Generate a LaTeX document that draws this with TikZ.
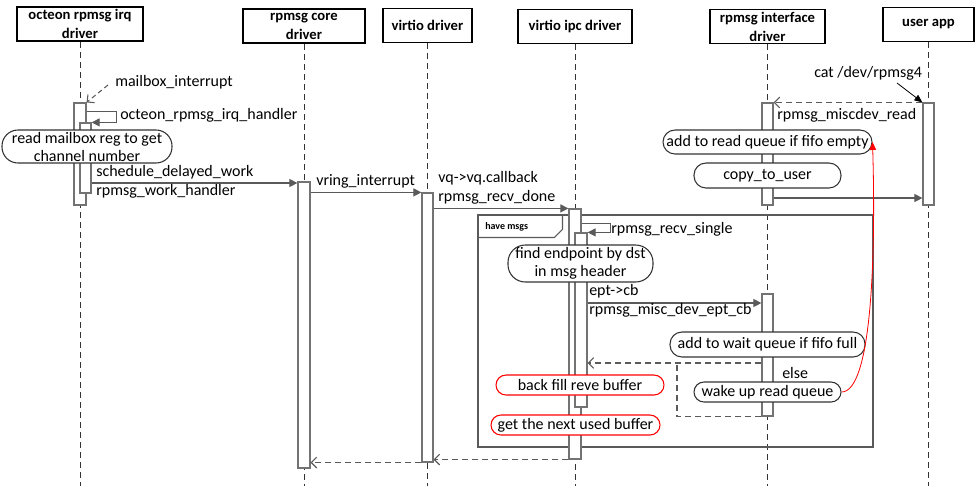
\documentclass[tikz,border=0pt]{standalone}
\usepackage{fontspec}
\setmainfont{Carlito}
\usepackage{tikz}
\usetikzlibrary{positioning,arrows.meta,calc,fit}
\definecolor{linegray}{RGB}{90,90,90}
\definecolor{bargray}{RGB}{115,115,115}
\definecolor{notered}{RGB}{255,0,0}

\begin{document}
\begin{tikzpicture}[x=0.75pt, y=-0.75pt, font=\fontsize{12}{14.25}\selectfont]
\tikzset{
  header/.style={rectangle, draw=black, line width=0.8pt, fill=white, align=center,
    font=\fontsize{11}{14.25}\selectfont\bfseries, inner sep=1pt, minimum height=25.5pt},
  life/.style={draw=black!80, dash pattern=on 4.5pt off 3pt, line width=0.6pt},
  actbar/.style={rectangle, draw=bargray, line width=0.9pt, fill=white, inner sep=0pt},
  note/.style={rectangle, rounded corners=9pt, draw=black!80, line width=0.8pt, fill=white,
    align=center, inner sep=1pt},
  twoline/.style={note, font=\fontsize{12}{13.5}\selectfont, inner sep=0pt},
  rednote/.style={note, draw=notered, rounded corners=7.5pt},
  lbl/.style={anchor=west, inner sep=0pt, text=black},
  msg/.style={-{Triangle[length=6pt,width=6pt]}, draw=linegray, line width=0.8pt},
  ret/.style={-{Straight Barb[length=4pt,width=8pt]}, draw=linegray, dash pattern=on 4.5pt off 3pt, line width=0.8pt},
  frm/.style={rectangle, draw=linegray, line width=0.8pt, inner sep=0pt}
}
\useasboundingbox (0,0) rectangle (976,487);
\node[header, minimum width=94.5pt] (irqdrv)  at (80,24)    {octeon rpmsg irq\\driver};
\node[header, minimum width=91.5pt] (coredrv) at (304,26)   {rpmsg core\\driver};
\node[header, minimum width=66.75pt] (virtdrv) at (427.5,25.5) {virtio driver};
\node[header, minimum width=85.5pt] (ipcdrv)  at (575,26.5) {virtio ipc driver};
\node[header, minimum width=86.25pt] (ifdrv)  at (767.5,26.5) {rpmsg interface\\driver};
\node[header, minimum width=68.25pt] (userapp) at (928.5,24.5) {user app};
\coordinate (bottom) at (0,486);
\foreach \d in {irqdrv,coredrv,virtdrv,ipcdrv,ifdrv,userapp}
  \draw[life] (\d.south) -- (\d.south |- bottom);
\node[frm, fit={(478,215) (873,447)}] (havemsgs) {};
\draw[draw=linegray, line width=0.8pt] (havemsgs.north west) ++(85,0) -- ++(0,15) -- ++(-8,8) -- ++(-77,0);
\node[lbl, font=\fontsize{7.5}{8}\selectfont\bfseries] (havelbl) at (485,227) {have msgs};
\node[actbar, fit={(74,103) (86,205)}] (irqact) {};
\node[actbar, fit={(80,123) (91,193)}] (irqsub) {};
\node[actbar, fit={(298,182) (310,468)}] (coreact) {};
\node[actbar, fit={(422,193) (433,462)}] (virtact) {};
\node[actbar, fit={(569,209) (581,459)}] (ipcact) {};
\node[actbar, fit={(575,233) (587,407)}] (ipcsub) {};
\node[actbar, fit={(762,103) (773,205)}] (ifact) {};
\node[actbar, fit={(762,294) (773,416)}] (ifsub) {};
\node[actbar, fit={(923,103) (934,205)}] (useract) {};
\node[twoline, minimum width=127.5pt, minimum height=24.75pt, rounded corners=12pt] (readmb) at (87,146.5) {read mailbox reg to get\\channel number};
\node[twoline, minimum width=108.75pt, minimum height=27.75pt, rounded corners=13pt] (findep) at (580.5,263.5) {find endpoint by dst\\in msg header};
\node[note, minimum width=156.75pt, minimum height=18pt] (addread) at (767.5,142) {add to read queue if fifo empty};
\node[note, minimum width=110.25pt, minimum height=18.75pt] (copyuser) at (767.5,175.5) {copy\_to\_user};
\node[note, minimum width=146.25pt, minimum height=18.75pt] (addwait) at (767.5,344.5) {add to wait queue if fifo full};
\node[note, minimum width=110.25pt, minimum height=15pt, rounded corners=7.5pt] (wakeup) at (767.5,392) {wake up read queue};
\node[rednote, minimum width=126pt, minimum height=15pt] (backfill) at (580,385) {back fill reve buffer};
\node[rednote, minimum width=126.75pt, minimum height=15pt] (nextbuf) at (575.5,425) {get the next used buffer};
\coordinate (mbx) at (108,85);
\coordinate (catsrc) at (897,83);
\coordinate (ysched) at (0,183);
\coordinate (yept) at (0,303);
\coordinate (yback) at (0,363);
\coordinate (elsex) at (677,363);
\coordinate (ycopy) at (0,198);
\draw[ret, dash pattern=on 3.5pt off 2.5pt] (mbx) -- (irqact.north east);
\draw[msg] ($(irqact.north east)+(0,9)$) -- ++(30,0) |- (irqsub.north east);
\draw[msg] (irqsub.east |- ysched) -- (coreact.west |- ysched);
\draw[msg] (coreact.east |- virtact.north) -- (virtact.north west);
\draw[msg] (virtact.east |- ipcact.north) -- (ipcact.north west);
\draw[msg] ($(ipcact.north east)+(0,15)$) -- ++(29,0) |- (ipcsub.north east);
\draw[msg] (ipcsub.east |- yept) -- (ifsub.west |- yept);
\draw[ret] (ifsub.west |- yback) -- (ipcsub.east |- yback);
\draw[ret, -] (ifsub.south west) -| (elsex);
\draw[ret] (ipcact.south west) -- (virtact.east |- ipcact.south);
\draw[ret] (virtact.south west) -- (coreact.east |- virtact.south);
\draw[-{Triangle[length=6pt,width=5pt]}, draw=black, line width=0.6pt] (catsrc) -- (useract.north west);
\draw[ret] (useract.north west) -- (ifact.north east);
\draw[msg] (ifact.east |- ycopy) -- (useract.west |- ycopy);
\draw[-{Triangle[length=6pt,width=5pt]}, draw=notered, line width=0.6pt] (wakeup.east) .. controls (871,392) and (876,262) .. (addread.east);
\node[lbl] (mbxlbl) at (115,82) {mailbox\_interrupt};
\node[lbl] (irqhlbl) at (120,115) {octeon\_rpmsg\_irq\_handler};
\node[lbl] (schedlbl) at (96,172) {schedule\_delayed\_work};
\node[lbl] (worklbl) at (96,191) {rpmsg\_work\_handler};
\node[lbl] (vringlbl) at (316,181) {vring\_interrupt};
\node[lbl] (vqlbl) at (438,178) {vq->vq.callback};
\node[lbl] (donelbl) at (438,197) {rpmsg\_recv\_done};
\node[lbl] (singlelbl) at (611,229) {rpmsg\_recv\_single};
\node[lbl] (eptlbl) at (589,291) {ept->cb};
\node[lbl] (misclbl) at (589,310) {rpmsg\_misc\_dev\_ept\_cb};
\node[lbl] (elselbl) at (782,373) {else};
\node[lbl] (catlbl) at (814,73) {cat /dev/rpmsg4};
\node[lbl] (readlbl) at (777,115) {rpmsg\_miscdev\_read};
\end{tikzpicture}
\end{document}
